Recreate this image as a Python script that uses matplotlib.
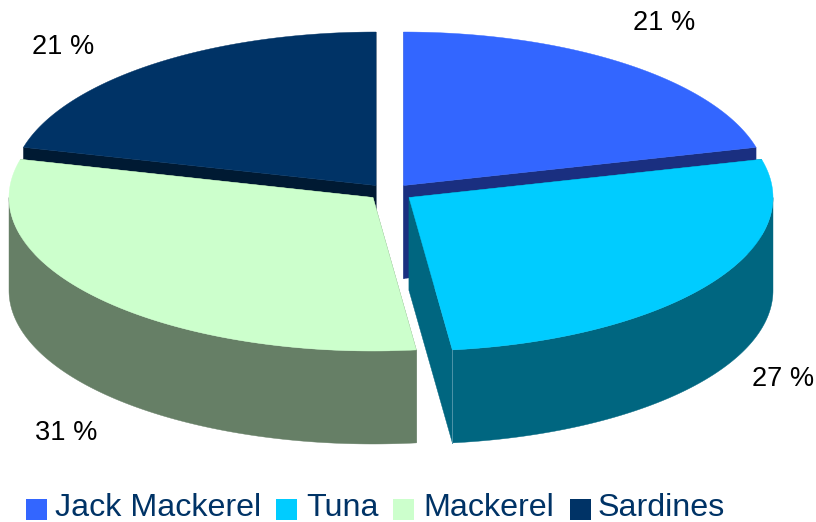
import numpy as np
import matplotlib
matplotlib.use('Agg')
import matplotlib.pyplot as plt
from matplotlib.patches import Polygon, Rectangle

plt.rcParams['font.family'] = ['Liberation Sans', 'DejaVu Sans']

species = ['Jack Mackerel', 'Tuna', 'Mackerel', 'Sardines']
# labels are rounded, the tuna/mackerel split reads slightly off the round numbers
shares = [21.0, 27.1, 30.9, 21.0]
pct_labels = ['21 %', '27 %', '31 %', '21 %']

top_colors = ['#3366ff', '#00ccff', '#ccffcc', '#003366']
side_colors = ['#1a2f80', '#006680', '#667f66', '#001a33']
text_color = '#003366'

# layout, in pixels of the 816x522 picture
rx, ry, depth = 364, 153.5, 93
apex_x = [403.5, 409, 373, 376]
apex_y = [185.5, 197.5, 197.5, 185.5]
label_xy = [(664, 22.5), (783, 378.5), (66, 432.5), (63, 47.5)]
legend_box_x = [26, 276, 393, 570]
legend_text_x = [55, 306, 423, 598]

fig = plt.figure(figsize=(8.16, 5.22), dpi=100)
ax = fig.add_axes([0, 0, 1, 1])
ax.set_xlim(0, 816)
ax.set_ylim(522, 0)
ax.axis('off')


def rim(cx, cy, t0, t1, n=120):
    # angles clockwise from 12 o'clock, squashed into an ellipse
    t = np.radians(np.linspace(t0, t1, n))
    return np.column_stack([cx + rx * np.sin(t), cy - ry * np.cos(t)])


def face(pts, color, z):
    ax.add_patch(Polygon(pts, closed=True, fc=color, ec=color, lw=0.3, zorder=z))


ends = np.cumsum(shares) / sum(shares) * 360
starts = np.concatenate([[0], ends[:-1]])
down = np.array([0, depth])

# back slices first, then the two at the front
for z, i in enumerate([3, 0, 2, 1]):
    t0, t1 = starts[i], ends[i]
    apex = np.array([apex_x[i], apex_y[i]])
    arc = rim(apex[0], apex[1], t0, t1)

    # the cut faces going down from the apex
    for corner in [arc[0], arc[-1]]:
        face([apex, corner, corner + down, apex + down], side_colors[i], z * 3)

    # outer wall, only the part turned to the viewer
    lo, hi = max(t0, 90), min(t1, 270)
    if lo < hi:
        wall = rim(apex[0], apex[1], lo, hi)
        face(np.vstack([wall, (wall + down)[::-1]]), side_colors[i], z * 3 + 1)

    face(np.vstack([[apex], arc]), top_colors[i], z * 3 + 2)

# thin light line where the tuna wall meets its cut face
tuna_corner = rim(apex_x[1], apex_y[1], ends[1], ends[1], 1)[0]
ax.plot([tuna_corner[0]] * 2, [tuna_corner[1], tuna_corner[1] + depth],
        color='#4d94a8', lw=0.7, zorder=20)

for (x, y), s in zip(label_xy, pct_labels):
    ax.text(x, y, s, fontsize=19.6, color='black', ha='center', va='center', zorder=30)

for i, name in enumerate(species):
    ax.add_patch(Rectangle((legend_box_x[i], 499), 21, 21, fc=top_colors[i], ec='none'))
    ax.text(legend_text_x[i], 508, name, fontsize=23.2, color=text_color,
            ha='left', va='center')

fig.savefig('out.png', dpi=100)
